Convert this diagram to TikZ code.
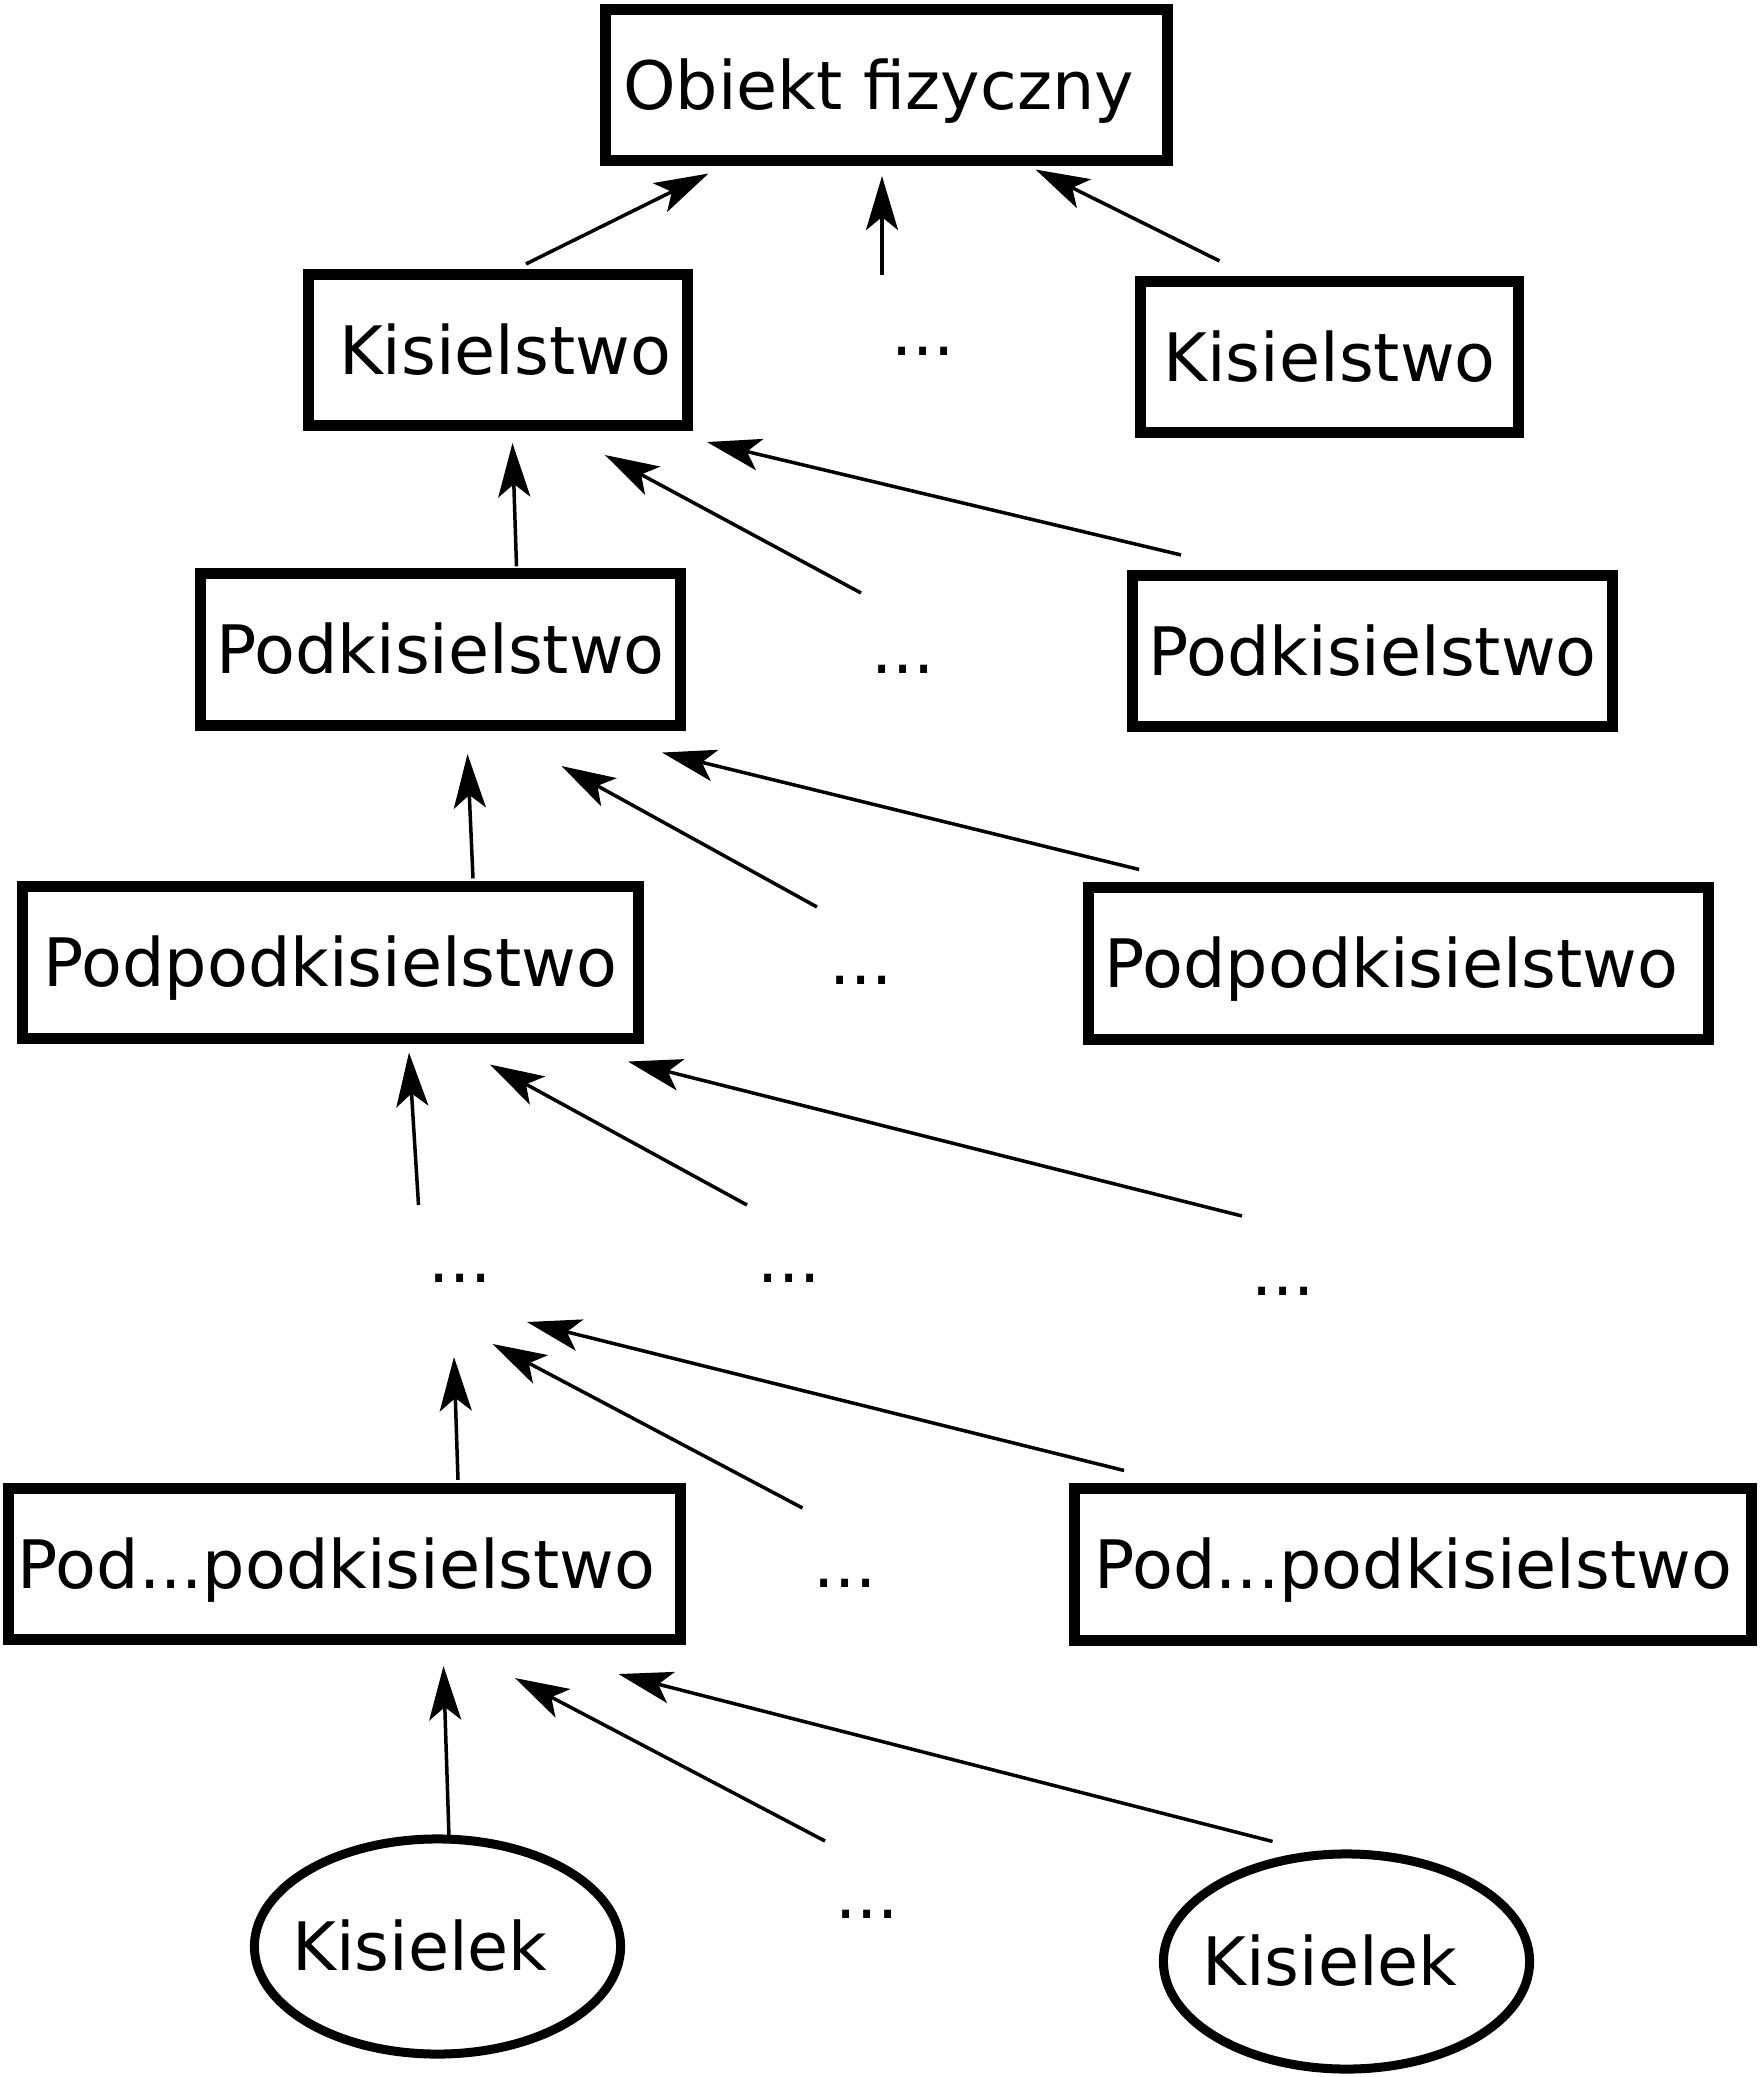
\documentclass[tikz,border=0pt]{standalone}
\usepackage{fontspec}
\setmainfont{DejaVu Sans}
\usetikzlibrary{arrows.meta, calc, shapes.geometric}
\newcommand{\unitsize}{0.01cm}

\begin{document}
\begin{tikzpicture}[x=\unitsize, y=-\unitsize]
\useasboundingbox (0,0) rectangle (1760,2077);
\tikzstyle{every node}=[font=\fontsize{19}{23}\selectfont,
			inner sep=0pt,
			text height=13.85pt,
			text depth=0pt
			]
\tikzstyle{kategoria}=[draw, rectangle, line width=0.11cm, minimum height=1.51cm]
\tikzstyle{osobnik}=[draw, ellipse, line width=0.09cm, minimum width=3.66cm, minimum height=2.15cm]
\tikzstyle{kropki}=[text height=2.5pt]
\tikzstyle{strzalka}=[line width=0.035cm, -{Stealth[length=0.54cm, width=0.32cm, inset=0.13cm]}]


\node[kategoria, minimum width=5.62cm] (obj) at (886.5,85) {Obiekt fizyczny\kern4.5pt};


\node[kategoria, minimum width=3.79cm] (k1) at (498,350) {\kern4pt Kisielstwo};
\node[kropki] (kd) at (923,351) {...};
\node[kategoria, minimum width=3.78cm] (k2) at (1329.5,357) {Kisielstwo};


\node[kategoria, minimum width=4.80cm] (pk1) at (440.5,649.5) {Podkisielstwo};
\node[kropki] (pkd) at (903,669) {...};
\node[kategoria, minimum width=4.80cm] (pk2) at (1372.5,651) {Podkisielstwo};


\node[kategoria, minimum width=6.16cm] (ppk1) at (330.5,962.5) {Podpodkisielstwo};
\node[kropki] (ppkd) at (861,980) {...};
\node[kategoria, minimum width=6.20cm] (ppk2) at (1398.5,963.5) {Podpodkisielstwo\kern4pt};


\node[kropki] (d1) at (460,1278) {...};
\node[kropki] (d2) at (789,1278) {...};
\node[kropki] (d3) at (1283,1291) {...};


\node[kategoria, minimum width=6.72cm] (pp1) at (344.5,1564) {Pod...podkisielstwo\kern4.5pt};
\node[kropki] (ppd) at (845,1583) {...};
\node[kategoria, minimum width=6.77cm] (pp2) at (1413,1564.5) {Pod...podkisielstwo};


\node[osobnik] (kl1) at (437.5,1946.5) {\makebox[0pt]{Kisielek\kern10pt}};
\node[kropki] (kld) at (867,1914) {...};
\node[osobnik] (kl2) at (1346.5,1961.5) {\makebox[0pt]{Kisielek\kern9.5pt}};


\draw[strzalka] ($(k1.north)+(28,-5)$) -- ($(obj.south)+(-178,7.5)$);
\draw[strzalka] ($(kd)+(-41,-75.5)$) -- ($(obj.south)+(-4.5,10)$);
\draw[strzalka] ($(k2.north)+(-110,-15)$) -- ($(obj.south)+(149,3.5)$);


\draw[strzalka] ($(pk1.north)+(76,-2)$) -- ($(k1.south)+(14.5,12)$);
\draw[strzalka] ($(pkd)+(-42,-76)$) -- ($(k1.south)+(107,24)$);
\draw[strzalka] ($(pk2.north)+(-191.5,-15)$) -- ($(k1.south)+(209,11)$);


\draw[strzalka] ($(ppk1.north)+(142.5,-3)$) -- ($(pk1.south)+(27,23.5)$);
\draw[strzalka] ($(ppkd)+(-44,-73)$) -- ($(pk1.south)+(121,35.5)$);
\draw[strzalka] ($(ppk2.north)+(-259.5,-13)$) -- ($(pk1.south)+(221.5,22)$);


\draw[strzalka] ($(d1)+(-41.5,-73)$) -- ($(ppk1.south)+(78.5,9)$);
\draw[strzalka] ($(d2)+(-42,-73)$) -- ($(ppk1.south)+(159.5,21)$);
\draw[strzalka] ($(d3)+(-41,-75)$) -- ($(ppk1.south)+(297.5,18)$);


\draw[strzalka] ($(pp1.north)+(113.5,-3)$) -- ($(d1)+(-6,79)$);
\draw[strzalka] ($(ppd)+(-42.5,-75)$) -- ($(d1)+(32.6,66)$);
\draw[strzalka] ($(pp2.north)+(-289,-13)$) -- ($(d1)+(67,44)$);


\draw[strzalka] ($(kl1.north)+(11.5,3)$) -- ($(pp1.south)+(99,21)$);
\draw[strzalka] ($(kld)+(-42,-73)$) -- ($(pp1.south)+(170.5,33)$);
\draw[strzalka] ($(kl2.north)+(-74,-8)$) -- ($(pp1.south)+(274,29)$);

\end{tikzpicture}
\end{document}
